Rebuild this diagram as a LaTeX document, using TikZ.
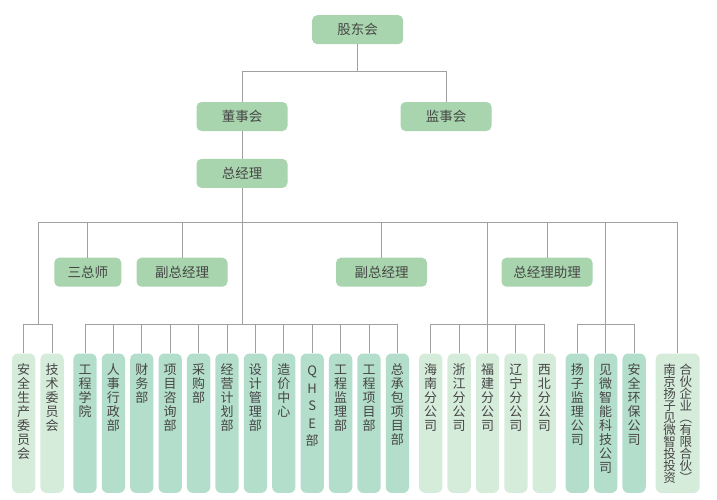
\documentclass[tikz,border=0pt]{standalone}
\usepackage{fontspec}
\setmainfont{Noto Sans CJK SC}
\definecolor{topg}{RGB}{168,213,173}
\definecolor{midg}{RGB}{180,222,204}
\definecolor{lig}{RGB}{214,236,219}
\definecolor{linec}{RGB}{160,160,160}
\definecolor{txtc}{RGB}{70,70,70}
\tikzset{
 hbox/.style={fill=topg, rounded corners=5pt, minimum height=29pt, minimum width=91pt, inner sep=0pt, text=txtc, font=\fontsize{13.5}{14}\selectfont},
 tbox/.style={rounded corners=6pt, inner sep=0pt, anchor=north, text=txtc, font=\fontsize{13}{14}\selectfont},
 lightbox/.style={tbox, fill=lig},
 midbox/.style={tbox, fill=midg},
 conn/.style={draw=linec, line width=1pt},
}
\newcommand{\vt}[2][20.9pt]{\parbox[t][139.4pt][t]{23.3pt}{\lineskiplimit=-20pt\centering\rule{0pt}{#1}#2}}
\newcommand{\vtw}[1]{\parbox[t][139.4pt][t]{44pt}{\fontsize{12.5}{12.1}\selectfont\lineskiplimit=-20pt\centering\rule{0pt}{20.5pt}#1}}
\begin{document}
\begin{tikzpicture}[x=1pt,y=-1pt]
\fill[white] (0,0) rectangle (717,499);
\useasboundingbox (0,0) rectangle (717,499);
% top levels
\node[hbox] (gd) at (357.7,29.7) {股东会};
\node[hbox] (dsh) at (242,116.5) {董事会};
\node[hbox] (jsh) at (446,116.5) {监事会};
\node[hbox] (zjl) at (242,173.4) {总经理};
% second row
\node[hbox, minimum width=67pt] (szs) at (87.8,272.2) {三总师};
\node[hbox] (fz1) at (182,272.2) {副总经理};
\node[hbox] (fz2) at (381.5,272.2) {副总经理};
\node[hbox] (zlz) at (547,272.2) {总经理助理};
% group 1
\node[lightbox] (a1) at (23.7,353.3) {\vt{安\\全\\生\\产\\委\\员\\会}};
\node[lightbox] (a2) at (52.1,353.3) {\vt{技\\术\\委\\员\\会}};
% group 2
\node[midbox] (b1) at (85,353.3) {\vt{工\\程\\学\\院}};
\node[midbox] (b2) at (113.4,353.3) {\vt{人\\事\\行\\政\\部}};
\node[midbox] (b3) at (141.8,353.3) {\vt{财\\务\\部}};
\node[midbox] (b4) at (170.2,353.3) {\vt{项\\目\\咨\\询\\部}};
\node[midbox] (b5) at (198.6,353.3) {\vt{采\\购\\部}};
\node[midbox] (b6) at (227,353.3) {\vt{经\\营\\计\\划\\部}};
\node[midbox] (b7) at (255.4,353.3) {\vt{设\\计\\管\\理\\部}};
\node[midbox] (b8) at (283.8,353.3) {\vt{造\\价\\中\\心}};
\node[midbox] (b9) at (312.2,353.3) {\vt[22.2pt]{Q\\[3.5pt]H\\[3.5pt]S\\[3.5pt]E\\[3.5pt]部}};
\node[midbox] (b10) at (340.6,353.3) {\vt{工\\程\\监\\理\\部}};
\node[midbox] (b11) at (369,353.3) {\vt{工\\程\\项\\目\\部}};
\node[midbox] (b12) at (397.4,353.3) {\vt{总\\承\\包\\项\\目\\部}};
% group 3
\node[lightbox] (c1) at (430.7,353.3) {\vt{海\\南\\分\\公\\司}};
\node[lightbox] (c2) at (459.1,353.3) {\vt{浙\\江\\分\\公\\司}};
\node[lightbox] (c3) at (487.5,353.3) {\vt{福\\建\\分\\公\\司}};
\node[lightbox] (c4) at (515.9,353.3) {\vt{辽\\宁\\分\\公\\司}};
\node[lightbox] (c5) at (544.3,353.3) {\vt{西\\北\\分\\公\\司}};
% group 4
\node[midbox] (d1) at (577.3,353.3) {\vt{扬\\子\\监\\理\\公\\司}};
\node[midbox] (d2) at (605.7,353.3) {\vt{见\\微\\智\\能\\科\\技\\公\\司}};
\node[midbox] (d3) at (634.1,353.3) {\vt{安\\全\\环\\保\\公\\司}};
% last
\node[lightbox] (nj) at (677.7,353.3) {\vtw{南\hspace{3.7pt}合\\京\hspace{3.7pt}伙\\扬\hspace{3.7pt}企\\子\hspace{3.7pt}业\\见\hspace{3.7pt}︵\\微\hspace{3.7pt}有\\智\hspace{3.7pt}限\\投\hspace{3.7pt}合\\投\hspace{3.7pt}伙\\资\hspace{3.7pt}︶}};
% coordinates
\coordinate (j1) at (357.7,71.3);
\coordinate (bl) at (38.3,222.3);
\coordinate (br) at (677.7,222.3);
\coordinate (g1) at (38.3,324.3);
\coordinate (g2) at (242,324.3);
\coordinate (g3) at (487.5,324.3);
\coordinate (g4) at (605.7,324.3);
% connectors
\draw[conn] (gd.south) -- (j1);
\draw[conn] (dsh.north) |- (j1) -| (jsh.north);
\draw[conn] (dsh.south) -- (zjl.north);
\draw[conn] (zjl.south) -- (g2);
\draw[conn] (g1) -- (bl) -- (br) -- (nj.north);
\foreach \n in {szs,fz1,fz2,zlz} \draw[conn] (\n.north) -- (\n.north |- bl);
\draw[conn] (g3) -- (g3 |- bl);
\draw[conn] (g4) -- (g4 |- bl);
\draw[conn] (a1.north) |- (g1) -| (a2.north);
\draw[conn] (b1.north) |- (g2) -| (b12.north);
\foreach \i in {2,...,11} \draw[conn] (b\i.north) -- (b\i.north |- g2);
\draw[conn] (c1.north) |- (g3) -| (c5.north);
\foreach \i in {2,3,4} \draw[conn] (c\i.north) -- (c\i.north |- g3);
\draw[conn] (d1.north) |- (g4) -| (d3.north);
\draw[conn] (d2.north) -- (d2.north |- g4);
\end{tikzpicture}
\end{document}
